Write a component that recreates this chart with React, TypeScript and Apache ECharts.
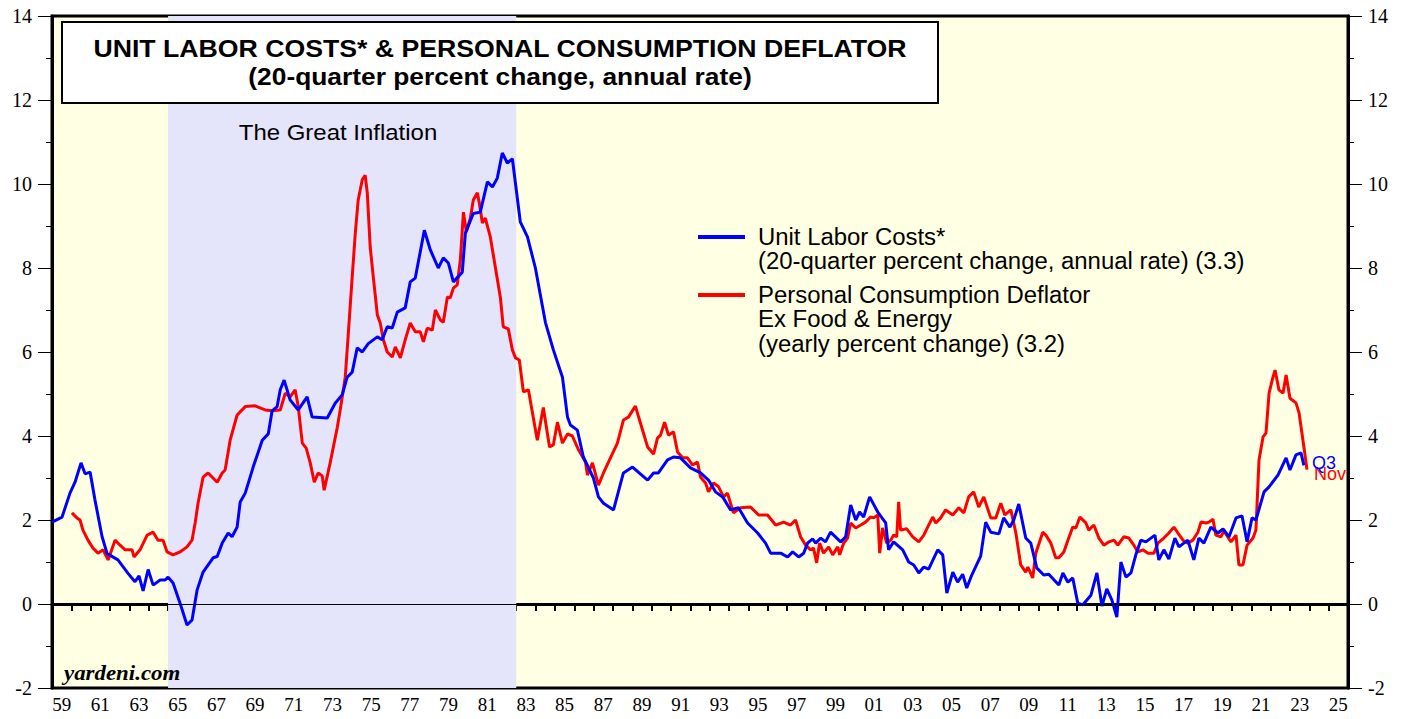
import React, { useEffect, useRef } from "react";
import * as echarts from "echarts";

// Unit Labor Costs (20-quarter % change, annual rate) — decimal year / value
const ulcYears = [
  1959.0, 1959.52, 1959.93, 1960.19, 1960.5, 1960.71, 1960.97, 1961.22, 1961.59, 1961.85, 1962.41, 1962.93,
  1963.29, 1963.5, 1963.71, 1963.97, 1964.23, 1964.59, 1964.85, 1965.0, 1965.26, 1965.62, 1965.98, 1966.24,
  1966.5, 1966.81, 1967.33, 1967.54, 1967.8, 1968.11, 1968.31, 1968.57, 1968.73, 1968.99, 1969.4, 1969.87,
  1970.18, 1970.38, 1970.64, 1970.8, 1971.0, 1971.31, 1971.73, 1972.19, 1972.45, 1973.23, 1973.64, 1974.0,
  1974.26, 1974.52, 1974.78, 1975.04, 1975.35, 1975.82, 1976.07, 1976.33, 1976.59, 1976.85, 1977.26, 1977.52,
  1977.78, 1978.25, 1978.56, 1978.97, 1979.23, 1979.49, 1979.75, 1980.21, 1980.37, 1980.78, 1981.14, 1981.51,
  1981.77, 1982.02, 1982.28, 1982.54, 1982.8, 1983.21, 1983.58, 1983.99, 1984.51, 1984.92, 1985.39, 1985.65,
  1985.8, 1986.16, 1986.47, 1986.99, 1987.25, 1987.51, 1988.03, 1988.54, 1989.01, 1989.79, 1990.1, 1990.35,
  1990.82, 1991.13, 1991.49, 1992.01, 1992.53, 1992.94, 1993.3, 1993.67, 1994.08, 1994.49, 1994.96, 1995.48,
  1995.89, 1996.15, 1996.67, 1997.03, 1997.29, 1997.6, 1997.86, 1998.06, 1998.32, 1998.48, 1998.74, 1998.99,
  1999.25, 1999.77, 2000.03, 2000.29, 2000.55, 2000.75, 2000.96, 2001.27, 2001.69, 2002.1, 2002.25, 2002.51,
  2002.98, 2003.29, 2003.55, 2003.81, 2004.07, 2004.32, 2004.79, 2005.05, 2005.26, 2005.57, 2005.82, 2006.08,
  2006.29, 2006.55, 2007.01, 2007.27, 2007.53, 2007.95, 2008.2, 2008.52, 2008.72, 2008.98, 2009.34, 2009.6,
  2009.91, 2010.27, 2010.53, 2011.05, 2011.26, 2011.52, 2011.77, 2012.03, 2012.29, 2012.71, 2013.02, 2013.28,
  2013.53, 2013.79, 2014.05, 2014.26, 2014.52, 2014.78, 2015.03, 2015.29, 2015.55, 2016.02, 2016.22, 2016.48,
  2016.74, 2017.05, 2017.26, 2017.72, 2018.03, 2018.29, 2018.55, 2018.91, 2019.28, 2019.54, 2019.85, 2020.21,
  2020.52, 2020.78, 2021.04, 2021.24, 2021.66, 2021.92, 2022.38, 2022.8, 2023.0, 2023.31, 2023.57, 2023.72,
];
const ulcValues = [
  1.95, 2.07, 2.64, 2.9, 3.36, 3.1, 3.14, 2.48, 1.6, 1.2, 1.05, 0.73,
  0.53, 0.67, 0.31, 0.82, 0.45, 0.57, 0.57, 0.64, 0.5, 0.02, -0.5, -0.38,
  0.33, 0.76, 1.1, 1.13, 1.45, 1.69, 1.6, 1.83, 2.43, 2.64, 3.26, 3.9,
  4.05, 4.6, 4.7, 5.1, 5.33, 4.86, 4.62, 4.93, 4.45, 4.43, 4.78, 4.98,
  5.4, 5.52, 6.1, 6.0, 6.2, 6.36, 6.29, 6.6, 6.57, 6.95, 7.05, 7.67,
  7.76, 8.9, 8.43, 8.0, 8.24, 8.12, 7.67, 7.9, 8.83, 9.3, 9.33, 10.05,
  9.93, 10.14, 10.74, 10.5, 10.6, 9.1, 8.74, 8.0, 6.7, 6.05, 5.4, 4.45,
  4.26, 4.14, 3.5, 3.0, 2.55, 2.4, 2.24, 3.12, 3.26, 2.95, 3.12, 3.12,
  3.43, 3.5, 3.48, 3.24, 3.12, 2.95, 2.67, 2.55, 2.24, 2.29, 1.93, 1.69,
  1.45, 1.21, 1.21, 1.12, 1.24, 1.12, 1.21, 1.45, 1.55, 1.45, 1.57, 1.48,
  1.71, 1.48, 1.6, 2.36, 2.0, 2.19, 2.07, 2.55, 2.19, 1.93, 1.29, 1.48,
  1.29, 1.0, 0.93, 0.74, 0.88, 0.83, 1.29, 1.17, 0.26, 0.76, 0.52, 0.71,
  0.38, 0.69, 1.14, 1.95, 1.71, 1.67, 2.05, 1.83, 2.0, 2.38, 1.57, 1.45,
  0.86, 0.69, 0.71, 0.45, 0.74, 0.52, 0.62, 0.02, -0.02, 0.21, 0.74, -0.05,
  0.36, 0.1, -0.31, 1.0, 0.64, 0.74, 1.17, 1.52, 1.48, 1.64, 1.05, 1.29,
  1.07, 1.57, 1.36, 1.52, 1.05, 1.57, 1.45, 1.83, 1.69, 1.79, 1.6, 2.05,
  2.1, 1.48, 2.05, 2.0, 2.67, 2.79, 3.07, 3.48, 3.19, 3.55, 3.6, 3.3,
];

// Personal Consumption Deflator ex Food & Energy (yearly % change)
const pceYears = [
  1960.03, 1960.29, 1960.45, 1960.6, 1960.86, 1961.12, 1961.38, 1961.64, 1961.9, 1962.26, 1962.52, 1962.78,
  1963.14, 1963.24, 1963.55, 1963.92, 1964.23, 1964.48, 1964.74, 1964.95, 1965.26, 1965.62, 1965.98, 1966.24,
  1966.4, 1966.55, 1966.81, 1967.07, 1967.54, 1967.8, 1967.95, 1968.21, 1968.57, 1968.99, 1969.5, 1970.02,
  1970.38, 1970.8, 1971.06, 1971.31, 1971.57, 1971.73, 1971.94, 1972.14, 1972.35, 1972.56, 1972.76, 1972.97,
  1973.07, 1973.38, 1973.75, 1973.9, 1974.16, 1974.32, 1974.52, 1974.68, 1974.83, 1975.04, 1975.19, 1975.3,
  1975.45, 1975.61, 1975.82, 1975.97, 1976.13, 1976.33, 1976.59, 1976.75, 1977.01, 1977.26, 1977.52, 1977.78,
  1978.04, 1978.2, 1978.4, 1978.66, 1978.82, 1979.08, 1979.23, 1979.44, 1979.59, 1979.75, 1979.95, 1980.11,
  1980.27, 1980.42, 1980.63, 1980.78, 1980.99, 1981.09, 1981.25, 1981.4, 1981.66, 1981.92, 1982.18, 1982.33,
  1982.59, 1982.8, 1982.96, 1983.16, 1983.37, 1983.63, 1983.84, 1984.09, 1984.4, 1984.72, 1984.92, 1985.13,
  1985.39, 1985.65, 1985.9, 1986.22, 1986.58, 1986.68, 1986.94, 1987.25, 1987.51, 1987.87, 1988.23, 1988.54,
  1988.8, 1989.16, 1989.42, 1989.79, 1990.1, 1990.3, 1990.46, 1990.67, 1990.87, 1991.13, 1991.34, 1991.6,
  1991.85, 1992.11, 1992.37, 1992.53, 1992.79, 1992.94, 1993.2, 1993.46, 1993.72, 1993.92, 1994.23, 1994.6,
  1995.11, 1995.53, 1995.99, 1996.41, 1996.82, 1997.18, 1997.44, 1997.7, 1997.96, 1998.22, 1998.37, 1998.53,
  1998.68, 1998.89, 1999.15, 1999.36, 1999.62, 1999.72, 1999.93, 2000.13, 2000.29, 2000.55, 2000.81, 2001.06,
  2001.32, 2001.48, 2001.69, 2001.79, 2001.94, 2002.15, 2002.36, 2002.51, 2002.67, 2002.77, 2002.87, 2003.19,
  2003.5, 2003.81, 2004.07, 2004.27, 2004.53, 2004.69, 2004.94, 2005.2, 2005.57, 2005.88, 2006.14, 2006.39,
  2006.65, 2006.91, 2007.17, 2007.53, 2007.79, 2008.05, 2008.26, 2008.57, 2008.83, 2009.08, 2009.34, 2009.45,
  2009.7, 2009.86, 2010.22, 2010.38, 2010.64, 2010.89, 2011.05, 2011.31, 2011.52, 2011.77, 2011.93, 2012.14,
  2012.45, 2012.6, 2012.86, 2013.12, 2013.38, 2013.64, 2013.9, 2014.1, 2014.41, 2014.67, 2014.93, 2015.14,
  2015.4, 2015.66, 2015.97, 2016.17, 2016.48, 2016.74, 2017.0, 2017.21, 2017.47, 2017.72, 2017.98, 2018.24,
  2018.4, 2018.66, 2018.81, 2019.02, 2019.17, 2019.43, 2019.59, 2019.95, 2020.21, 2020.36, 2020.57, 2020.78,
  2021.09, 2021.24, 2021.4, 2021.61, 2021.76, 2021.92, 2022.12, 2022.23, 2022.43, 2022.64, 2022.8, 2023.0,
  2023.31, 2023.47, 2023.72, 2023.88,
];
const pceValues = [
  2.17, 2.05, 2.0, 1.76, 1.52, 1.33, 1.21, 1.29, 1.05, 1.52, 1.4, 1.29,
  1.29, 1.12, 1.29, 1.64, 1.71, 1.52, 1.52, 1.24, 1.17, 1.24, 1.36, 1.52,
  1.93, 2.4, 3.02, 3.12, 2.9, 3.12, 3.19, 3.9, 4.5, 4.7, 4.72, 4.62,
  4.6, 4.62, 5.02, 4.93, 5.1, 4.7, 3.83, 3.71, 3.36, 2.9, 3.12, 3.05,
  2.71, 3.36, 4.21, 4.62, 5.4, 6.45, 7.79, 8.83, 9.62, 10.1, 10.21, 9.79,
  8.5, 7.79, 6.88, 6.69, 6.29, 6.0, 5.88, 6.12, 5.86, 6.29, 6.69, 6.48,
  6.48, 6.24, 6.57, 6.52, 7.0, 6.76, 6.71, 7.31, 7.29, 7.52, 7.6, 8.19,
  9.33, 8.86, 9.19, 9.62, 9.79, 9.55, 9.07, 9.19, 8.74, 8.02, 7.3, 6.6,
  6.55, 6.05, 5.86, 5.81, 5.05, 5.1, 4.55, 3.9, 4.68, 3.74, 3.79, 4.33,
  3.83, 4.05, 4.0, 3.67, 3.38, 3.07, 3.36, 2.83, 3.12, 3.48, 3.83, 4.38,
  4.45, 4.71, 4.31, 3.74, 3.57, 3.95, 4.02, 4.33, 4.02, 4.1, 3.62, 3.48,
  3.48, 3.31, 3.38, 3.02, 2.88, 2.67, 2.88, 2.79, 2.55, 2.64, 2.17, 2.29,
  2.31, 2.12, 2.12, 1.88, 1.95, 1.88, 2.0, 1.6, 1.4, 1.29, 1.33, 0.98,
  1.45, 1.21, 1.36, 1.17, 1.36, 1.17, 1.45, 1.57, 1.93, 1.81, 1.88, 1.95,
  2.07, 2.05, 2.12, 1.21, 1.81, 1.45, 1.52, 1.64, 1.6, 2.43, 1.76, 1.79,
  1.6, 1.48, 1.64, 1.83, 2.07, 1.93, 2.05, 2.24, 2.12, 2.29, 2.17, 2.55,
  2.67, 2.31, 2.55, 2.05, 2.05, 2.4, 2.12, 2.24, 1.69, 0.93, 0.76, 0.88,
  0.62, 1.21, 1.71, 1.64, 1.45, 1.1, 1.1, 1.24, 1.52, 1.83, 1.81, 2.07,
  1.93, 1.76, 1.88, 1.57, 1.4, 1.48, 1.52, 1.4, 1.6, 1.57, 1.4, 1.24,
  1.29, 1.21, 1.21, 1.45, 1.57, 1.69, 1.83, 1.69, 1.52, 1.45, 1.52, 1.71,
  1.95, 1.93, 1.95, 2.02, 1.64, 1.6, 1.74, 1.48, 1.64, 0.93, 0.93, 1.4,
  1.57, 1.76, 3.43, 3.98, 4.07, 5.02, 5.4, 5.57, 5.1, 5.02, 5.45, 4.9,
  4.79, 4.55, 3.74, 3.2,
];

const yTicks = [-2, 0, 2, 4, 6, 8, 10, 12, 14];
const xStartYear = 1959;
const xEndYear = 2026;
const greatInflation = [1965, 1983];

const titleLines = [
  "UNIT LABOR COSTS* & PERSONAL CONSUMPTION DEFLATOR",
  "(20-quarter percent change, annual rate)",
];
const legendBlue = ["Unit Labor Costs*", "(20-quarter percent change, annual rate) (3.3)"];
const legendRed = ["Personal Consumption Deflator", "Ex Food & Energy", "(yearly percent change) (3.2)"];

const SERIF = "'Liberation Serif', 'DejaVu Serif', serif";
const SANS = "'Liberation Sans', Arial, sans-serif";

export default function App() {
  const ref = useRef<HTMLDivElement>(null);

  useEffect(() => {
    if (!ref.current) return;
    const chart = echarts.init(ref.current, undefined, { renderer: "svg" });
    const ulc = ulcYears.map((y, i) => [y, ulcValues[i]]);
    const pce = pceYears.map((y, i) => [y, pceValues[i]]);
    const span = xEndYear - xStartYear;

    const yAxisCommon = {
      type: "value",
      min: yTicks[0],
      max: yTicks[yTicks.length - 1],
      interval: 2,
      axisLine: { show: true, lineStyle: { color: "#000", width: 3 } },
      axisTick: { show: true, inside: false, length: 14, lineStyle: { color: "#000", width: 1 } },
      minorTick: { show: true, splitNumber: 2, length: 6, lineStyle: { color: "#000", width: 1 } },
      splitLine: { show: false },
      axisLabel: { color: "#000", fontFamily: SERIF, fontSize: 20, margin: 20 },
    };

    const txt = (
      text: string,
      x: number,
      y: number,
      font: string,
      align: string,
      scaleX: number,
      fill = "#000"
    ) => ({
      type: "text",
      x,
      y,
      scaleX,
      style: { text, font, fill, align, verticalAlign: "middle" },
      z: 11,
    });

    chart.setOption({
      animation: false,
      backgroundColor: "#ffffff",
      grid: {
        left: 52,
        right: 59,
        top: 16,
        bottom: 31,
        show: true,
        backgroundColor: "#FFFFE3",
        borderColor: "#000",
        borderWidth: 3,
      },
      xAxis: [
        {
          type: "value",
          min: xStartYear,
          max: xEndYear,
          interval: 1,
          axisLine: { show: true, lineStyle: { color: "#000", width: 3 } },
          axisTick: { show: true, inside: false, length: 7, lineStyle: { color: "#000", width: 2 } },
          axisLabel: { show: false },
          splitLine: { show: false },
        },
        {
          type: "value",
          position: "bottom",
          min: 0,
          max: span * 2,
          interval: 1,
          axisLine: { show: false },
          axisTick: { show: false },
          splitLine: { show: false },
          axisLabel: {
            show: true,
            interval: 0,
            color: "#000",
            fontFamily: SERIF,
            fontSize: 19,
            margin: 7,
            formatter: (v: number) => {
              if (v % 4 !== 1) return "";
              const yr = xStartYear + (v - 1) / 2;
              return String(yr % 100).padStart(2, "0");
            },
          },
        },
      ],
      yAxis: [
        { ...yAxisCommon, position: "left" },
        { ...yAxisCommon, position: "right" },
      ],
      series: [
        {
          type: "line",
          name: "bg",
          data: [],
          xAxisIndex: 0,
          yAxisIndex: 0,
          markArea: {
            silent: true,
            itemStyle: { color: "#E4E4FA" },
            data: [[{ xAxis: greatInflation[0] }, { xAxis: greatInflation[1] }]],
          },
          markLine: {
            silent: true,
            symbol: "none",
            label: { show: false },
            lineStyle: { color: "#000", width: 1, type: "solid" },
            data: [{ yAxis: 0 }],
          },
        },
        {
          type: "line",
          name: "PCE",
          data: pce,
          xAxisIndex: 0,
          yAxisIndex: 0,
          showSymbol: false,
          symbol: "none",
          lineStyle: { color: "#FF0000", width: 3 },
          itemStyle: { color: "#FF0000" },
          z: 3,
          endLabel: {
            show: true,
            formatter: "Nov",
            color: "#FF0000",
            fontFamily: SANS,
            fontSize: 18,
            offset: [-1, 4],
          },
        },
        {
          type: "line",
          name: "ULC",
          data: ulc,
          xAxisIndex: 0,
          yAxisIndex: 0,
          showSymbol: false,
          symbol: "none",
          lineStyle: { color: "#0000FF", width: 3 },
          itemStyle: { color: "#0000FF" },
          z: 4,
          endLabel: {
            show: true,
            formatter: "Q3",
            color: "#0000FF",
            fontFamily: SANS,
            fontSize: 18,
            offset: [0, -2],
          },
        },
      ],
      graphic: [
        {
          type: "rect",
          shape: { x: 62, y: 22, width: 876, height: 81 },
          style: { fill: "#ffffff", stroke: "#000", lineWidth: 2 },
          z: 10,
        },
        txt(titleLines[0], 500, 49, `bold 23px ${SANS}`, "center", 1.16),
        txt(titleLines[1], 500, 77, `bold 23px ${SANS}`, "center", 1.145),
        txt("The Great Inflation", 338, 132, `22px ${SANS}`, "center", 1.09),
        {
          type: "line",
          shape: { x1: 698, y1: 237, x2: 745, y2: 237 },
          style: { stroke: "#0000FF", lineWidth: 4 },
          z: 11,
        },
        ...legendBlue.map((t, i) => txt(t, 758, 237 + i * 24.5, `23px ${SANS}`, "left", 1.04)),
        {
          type: "line",
          shape: { x1: 698, y1: 295, x2: 745, y2: 295 },
          style: { stroke: "#FF0000", lineWidth: 4 },
          z: 11,
        },
        ...legendRed.map((t, i) => txt(t, 758, 295 + i * 24.5, `23px ${SANS}`, "left", 1.04)),
        txt("yardeni.com", 64, 673, `italic bold 21px ${SERIF}`, "left", 1.09),
      ],
    });
    return () => chart.dispose();
  }, []);

  return (
    <div
      ref={ref}
      style={{ position: "fixed", left: 0, top: 0, width: 1407, height: 719 }}
    />
  );
}
